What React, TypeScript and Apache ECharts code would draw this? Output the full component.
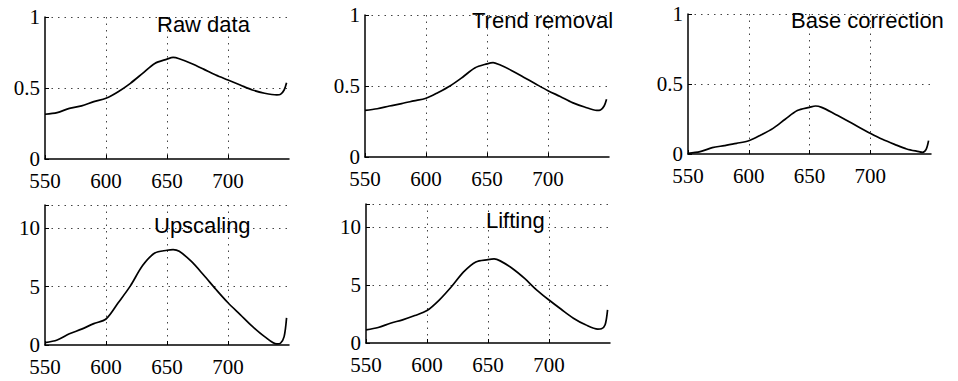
import React, { useEffect, useRef } from "react";
import * as echarts from "echarts";

const wavelengths = [550, 560, 570, 580, 590, 600, 610, 620, 630, 640, 650, 655, 660, 670, 680, 690, 700, 710, 720, 730, 740, 743, 746, 748];

const rawData = [0.315, 0.327, 0.357, 0.374, 0.404, 0.428, 0.474, 0.533, 0.603, 0.673, 0.703, 0.715, 0.706, 0.673, 0.633, 0.591, 0.556, 0.521, 0.486, 0.463, 0.451, 0.455, 0.486, 0.537];
const trendRemoval = [0.328, 0.34, 0.359, 0.376, 0.395, 0.414, 0.455, 0.502, 0.562, 0.627, 0.656, 0.665, 0.651, 0.61, 0.562, 0.514, 0.467, 0.426, 0.383, 0.352, 0.328, 0.331, 0.359, 0.407];
const baseCorrection = [0.005, 0.017, 0.045, 0.06, 0.076, 0.095, 0.136, 0.183, 0.248, 0.31, 0.333, 0.343, 0.333, 0.29, 0.243, 0.195, 0.148, 0.105, 0.069, 0.036, 0.017, 0.012, 0.033, 0.095];
const upscaling = [0.2, 0.43, 0.96, 1.36, 1.83, 2.23, 3.62, 5.07, 6.81, 7.88, 8.12, 8.17, 8.03, 7.16, 6.0, 4.78, 3.62, 2.61, 1.59, 0.72, 0.09, 0.15, 0.72, 2.32];
const lifting = [1.14, 1.34, 1.71, 2.0, 2.37, 2.8, 3.71, 4.86, 6.14, 7.0, 7.2, 7.26, 7.09, 6.43, 5.57, 4.57, 3.71, 2.91, 2.14, 1.57, 1.2, 1.23, 1.57, 2.86];

const xTickLabels = [550, 600, 650, 700];
const yTickLabelsSmall = [0, 0.5, 1];
const yTickLabelsLarge = [0, 5, 10];

const titles = ["Raw data", "Trend removal", "Base correction", "Upscaling", "Lifting"];
const panelSeries = [rawData, trendRemoval, baseCorrection, upscaling, lifting];

// layout (pixels)
const grids = [
  { left: 45, top: 17, width: 244, height: 142 },
  { left: 365, top: 15, width: 244, height: 142 },
  { left: 688, top: 14, width: 243, height: 140 },
  { left: 45, top: 205, width: 244, height: 140 },
  { left: 366, top: 204, width: 244, height: 139 },
];
const titlePos = [
  { x: 157, y: 24 },
  { x: 472, y: 20 },
  { x: 791, y: 20 },
  { x: 154, y: 225 },
  { x: 486, y: 220 },
];

export default function App() {
  const ref = useRef<HTMLDivElement>(null);
  useEffect(() => {
    if (!ref.current) return;
    const chart = echarts.init(ref.current, undefined, { renderer: "svg" });
    const dotted = { color: "#444", width: 1, type: [1.5, 5] as any };
    const xAxes = grids.map((_, i) => ({
      type: "value",
      gridIndex: i,
      min: 550,
      max: 750,
      interval: 50,
      axisLine: { show: true, onZero: false, lineStyle: { color: "#000", width: 1.5 } },
      axisTick: { show: true, inside: true, length: 4, lineStyle: { color: "#000" } },
      axisLabel: {
        color: "#000",
        fontFamily: "Liberation Serif, Times New Roman, serif",
        fontSize: 21,
        lineHeight: 16,
        margin: 14,
        showMaxLabel: false,
        formatter: (v: number) => (xTickLabels.includes(v) ? String(v) : ""),
      },
      splitLine: { show: true, showMinLine: false, showMaxLine: false, lineStyle: dotted },
    }));
    const yAxes = grids.map((_, i) => {
      const small = i < 3;
      const labels = small ? yTickLabelsSmall : yTickLabelsLarge;
      return {
        type: "value",
        gridIndex: i,
        min: 0,
        max: small ? 1 : 12,
        interval: small ? 0.5 : 5,
        axisLine: { show: true, onZero: false, lineStyle: { color: "#000", width: 1.5 } },
        axisTick: { show: true, inside: true, length: 4, lineStyle: { color: "#000" } },
        axisLabel: {
          color: "#000",
          fontFamily: "Liberation Serif, Times New Roman, serif",
          fontSize: 21,
          lineHeight: 15,
          margin: 5,
          padding: small ? [4, 0, 0, 0] : [0, 0, 0, 0],
          formatter: (v: number) => (labels.includes(v) ? String(v) : ""),
        },
        splitLine: { show: true, showMinLine: false, showMaxLine: true, lineStyle: dotted },
      };
    });
    const series = panelSeries.map((vals, i) => ({
      type: "line",
      xAxisIndex: i,
      yAxisIndex: i,
      showSymbol: false,
      smooth: 0.3,
      lineStyle: { color: "#000", width: 1.7 },
      data: wavelengths.map((w, j) => [w, vals[j]]),
    }));
    chart.setOption({
      animation: false,
      backgroundColor: "#fff",
      grid: grids.map((g) => ({ ...g, containLabel: false })),
      xAxis: xAxes,
      yAxis: yAxes,
      series,
      graphic: titles.map((t, i) => ({
        type: "text",
        x: titlePos[i].x,
        y: titlePos[i].y,
        z: 10,
        style: {
          text: t,
          fill: "#000",
          fontFamily: "Liberation Sans, Arial, Helvetica, sans-serif",
          fontSize: 22,
          verticalAlign: "middle",
          align: "left",
        },
      })),
    });
    return () => chart.dispose();
  }, []);
  return <div ref={ref} style={{ position: "absolute", left: 0, top: 0, width: 958, height: 381 }} />;
}
